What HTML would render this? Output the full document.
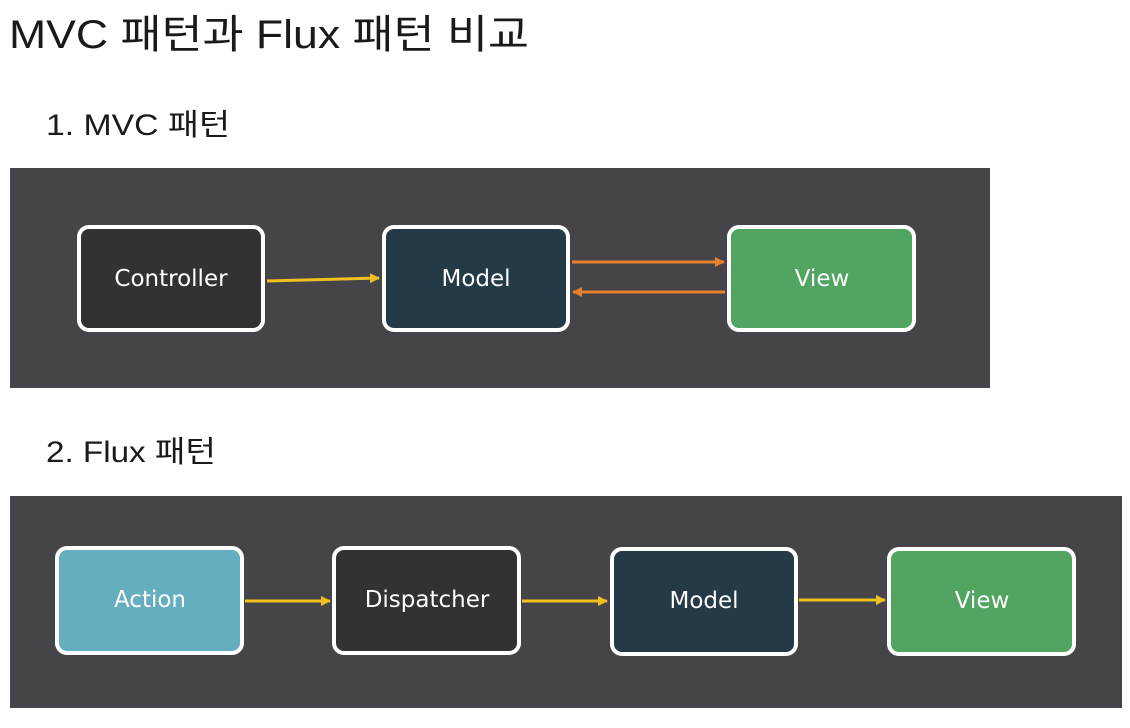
<!DOCTYPE html>
<html><head><meta charset="utf-8"><style>
html,body{margin:0;padding:0;background:#fff;width:1130px;height:728px;overflow:hidden}
svg{display:block}
</style></head><body>
<svg width="1130" height="728" xmlns="http://www.w3.org/2000/svg">
<defs>
<marker id="ay" markerWidth="10" markerHeight="10" refX="9" refY="5" orient="auto" markerUnits="userSpaceOnUse"><path d="M0,0 L10,5 L0,10 Z" fill="#f0c020"/></marker>
<marker id="ao" markerWidth="10" markerHeight="10" refX="9" refY="5" orient="auto" markerUnits="userSpaceOnUse"><path d="M0,0 L10,5 L0,10 Z" fill="#e8812e"/></marker>
</defs>
<g font-family="'Liberation Sans','Noto Sans CJK KR',sans-serif" fill="#1a1a1a">
<text x="9" y="48" font-size="40" textLength="520" lengthAdjust="spacingAndGlyphs">MVC 패턴과 Flux 패턴 비교</text>
<text x="46" y="135" font-size="30" textLength="184" lengthAdjust="spacingAndGlyphs">1. MVC 패턴</text>
<text x="46" y="462" font-size="30" textLength="170" lengthAdjust="spacingAndGlyphs">2. Flux 패턴</text>
</g>
<rect x="10" y="168" width="980" height="220" fill="#454448"/>
<rect x="10" y="496" width="1112" height="212" fill="#454448"/>
<g stroke="#fff" stroke-width="4">
<rect x="79" y="227" width="184" height="103" rx="10" fill="#333133"/>
<rect x="384" y="227" width="184" height="103" rx="10" fill="#243a47"/>
<rect x="729" y="227" width="185" height="103" rx="10" fill="#52a461"/>
<rect x="57" y="548" width="185" height="105" rx="10" fill="#64aec0"/>
<rect x="334" y="548" width="185" height="105" rx="10" fill="#333133"/>
<rect x="612" y="549" width="184" height="105" rx="10" fill="#243a47"/>
<rect x="889" y="549" width="185" height="105" rx="10" fill="#52a461"/>
</g>
<g stroke-width="3" fill="none">
<line x1="267" y1="281" x2="379" y2="278" stroke="#f0c020" marker-end="url(#ay)"/>
<line x1="572" y1="262" x2="724" y2="262" stroke="#e8812e" marker-end="url(#ao)"/>
<line x1="725" y1="292" x2="573" y2="292" stroke="#e8812e" marker-end="url(#ao)"/>
<line x1="245" y1="601" x2="330" y2="601" stroke="#f0c020" marker-end="url(#ay)"/>
<line x1="522" y1="601" x2="607" y2="601" stroke="#f0c020" marker-end="url(#ay)"/>
<line x1="799" y1="600" x2="885" y2="600" stroke="#f0c020" marker-end="url(#ay)"/>
</g>
<g font-family="'DejaVu Sans','Liberation Sans',sans-serif" font-size="23" fill="#fff" text-anchor="middle">
<text x="171" y="286">Controller</text>
<text x="476" y="286">Model</text>
<text x="822" y="286">View</text>
<text x="150" y="607">Action</text>
<text x="427" y="607">Dispatcher</text>
<text x="704" y="608">Model</text>
<text x="982" y="608">View</text>
</g>
</svg>
</body></html>
